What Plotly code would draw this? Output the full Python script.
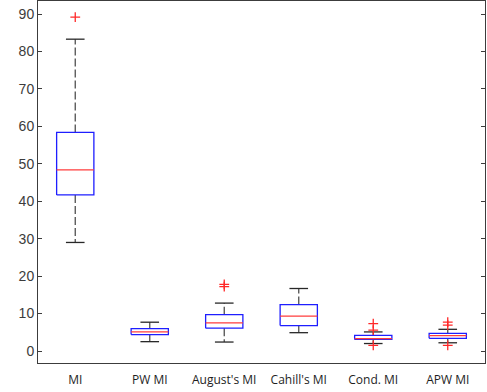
import plotly.graph_objects as go

# ---- data ----
labels = ["MI", "PW MI", "August's MI", "Cahill's MI", "Cond. MI", "APW MI"]
q1 = [41.7, 4.4, 6.1, 6.8, 3.1, 3.4]
median = [48.4, 5.1, 7.5, 9.3, 3.3, 4.1]
q3 = [58.4, 6.0, 9.7, 12.4, 4.2, 4.7]
lower_whisker = [29.0, 2.5, 2.4, 4.9, 2.0, 2.2]
upper_whisker = [83.3, 7.7, 12.8, 16.7, 5.1, 5.8]
outliers = [[89.2], [], [17.8, 17.2], [], [7.3, 5.6, 1.5], [7.7, 6.9, 1.5]]
y_ticks = [0, 10, 20, 30, 40, 50, 60, 70, 80, 90]

pos = list(range(1, len(labels) + 1))
bw = 0.25   # box half width
cw = 0.125  # cap half width

bx, by, mx, my, wx, wy, cx, cy, ox, oy = [], [], [], [], [], [], [], [], [], []
for i, c in enumerate(pos):
    bx += [c - bw, c + bw, c + bw, c - bw, c - bw, None]
    by += [q1[i], q1[i], q3[i], q3[i], q1[i], None]
    mx += [c - bw, c + bw, None]
    my += [median[i], median[i], None]
    wx += [c, c, None, c, c, None]
    wy += [q3[i], upper_whisker[i], None, q1[i], lower_whisker[i], None]
    cx += [c - cw, c + cw, None, c - cw, c + cw, None]
    cy += [upper_whisker[i], upper_whisker[i], None, lower_whisker[i], lower_whisker[i], None]
    for v in outliers[i]:
        ox.append(c)
        oy.append(v)

fig = go.Figure()
fig.add_trace(go.Scatter(x=wx, y=wy, mode="lines",
                         line=dict(color="rgb(80,80,80)", width=1.3, dash="8px,3px"),
                         hoverinfo="skip", showlegend=False))
fig.add_trace(go.Scatter(x=cx, y=cy, mode="lines",
                         line=dict(color="rgb(40,40,40)", width=1.3),
                         hoverinfo="skip", showlegend=False))
fig.add_trace(go.Scatter(x=bx, y=by, mode="lines",
                         line=dict(color="rgb(30,30,255)", width=1.3),
                         hoverinfo="skip", showlegend=False))
fig.add_trace(go.Scatter(x=mx, y=my, mode="lines",
                         line=dict(color="rgb(255,60,60)", width=1.3),
                         hoverinfo="skip", showlegend=False))
fig.add_trace(go.Scatter(x=ox, y=oy, mode="markers",
                         marker=dict(symbol="cross-thin", size=7,
                                     line=dict(color="rgb(255,40,40)", width=1.3)),
                         hoverinfo="skip", showlegend=False))

fig.update_layout(
    width=487, height=392,
    margin=dict(l=38, r=2, t=1, b=29),
    paper_bgcolor="white", plot_bgcolor="white",
    showlegend=False,
    xaxis=dict(range=[0.5, 6.5], tickvals=pos, ticktext=labels,
               showgrid=False, zeroline=False,
               ticks="outside", ticklen=6, tickcolor="rgba(0,0,0,0)",
               showline=True, linecolor="rgb(60,60,60)", linewidth=1, mirror=True,
               tickfont=dict(family="Open Sans", size=12, color="rgb(30,30,30)")),
    yaxis=dict(range=[-3.2, 93.5], tickvals=y_ticks,
               showgrid=False, zeroline=False,
               ticks="inside", ticklen=4, tickcolor="rgb(60,60,60)",
               showline=True, linecolor="rgb(60,60,60)", linewidth=1, mirror="ticks",
               tickfont=dict(family="Liberation Sans", size=14, color="rgb(60,60,60)")),
)

fig.write_html("out.html", config={"displayModeBar": False},
               post_script="document.body.style.margin='0';document.body.style.overflow='hidden';")
